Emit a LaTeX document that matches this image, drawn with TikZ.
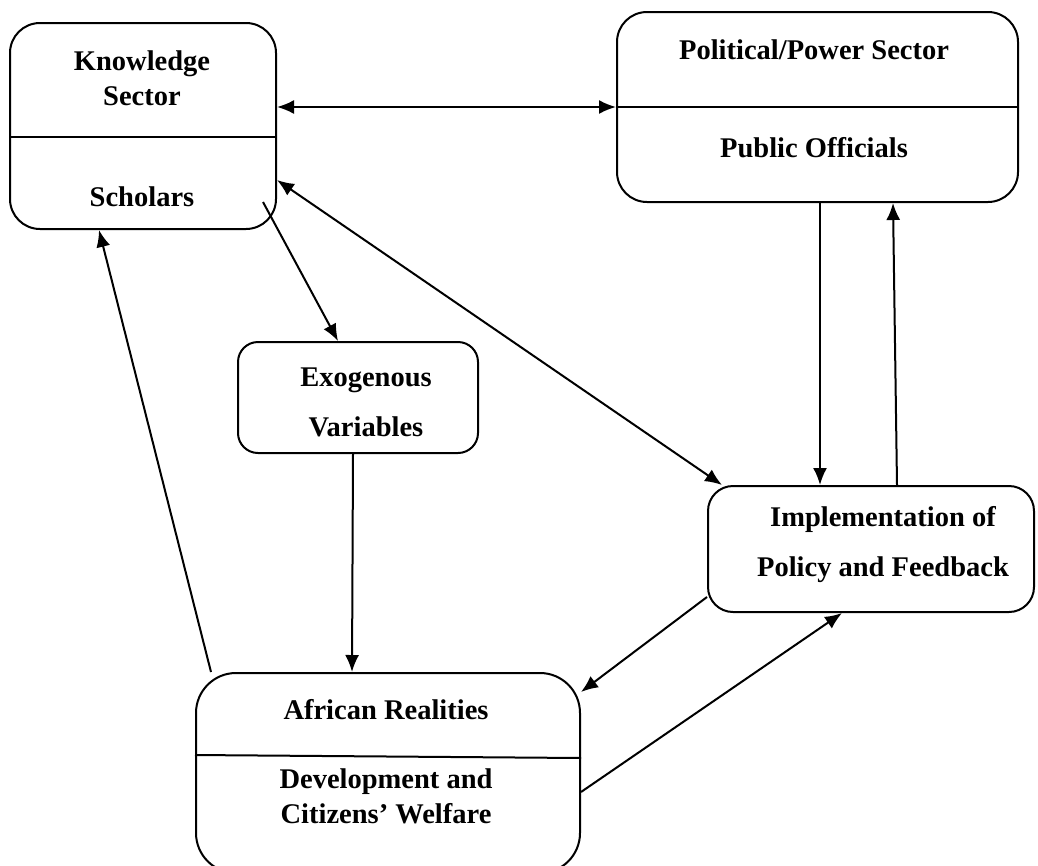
\documentclass[tikz,border=0pt]{standalone}
\usepackage{fontspec}
\setmainfont{Liberation Serif}
\usetikzlibrary{arrows.meta}
\tikzset{
  sectorbox/.style={draw, line width=2pt, rounded corners=30pt, inner sep=0pt},
  boxtext/.style={font=\bfseries\fontsize{28.5}{35}\selectfont, align=center, inner sep=0pt},
  link/.style={line width=2pt, -{Latex[length=17pt,width=14pt]}},
  twoway/.style={line width=2pt, {Latex[length=17pt,width=14pt]}-{Latex[length=17pt,width=14pt]}},
}

\begin{document}
\begin{tikzpicture}[x=1pt, y=-1pt]
\useasboundingbox (0,0) rectangle (1038,865);
% boxes
\node[sectorbox, minimum width=266pt, minimum height=206pt] (know) at (143,126) {};
\node[sectorbox, minimum width=401pt, minimum height=190pt] (pol) at (817.5,107) {};
\node[sectorbox, rounded corners=20pt, minimum width=240pt, minimum height=111pt] (exo) at (358,397.5) {};
\node[sectorbox, rounded corners=25pt, minimum width=326pt, minimum height=126pt] (impl) at (871,549) {};
\node[sectorbox, rounded corners=40pt, minimum width=384pt, minimum height=200pt] (afr) at (388,773) {};
% dividers
\draw[line width=2pt] ([yshift=-11pt]know.west) -- ([yshift=-11pt]know.east);
\draw[line width=2pt] (pol.west) -- (pol.east);
\draw[line width=2pt] ([yshift=18pt]afr.west) -- ([yshift=15pt]afr.east);
% texts
\node[boxtext] (knowT) at (142,78) {Knowledge\\Sector};
\node[boxtext] (knowB) at (142,197) {Scholars};
\node[boxtext] (polT) at (814,50) {Political/Power Sector};
\node[boxtext] (polB) at (814,148) {Public Officials};
\node[boxtext, font=\bfseries\fontsize{28.5}{50}\selectfont] (exoT) at (366,402) {Exogenous\\Variables};
\node[boxtext, font=\bfseries\fontsize{28.5}{50}\selectfont] (implT) at (883,545) {Implementation of\\Policy and Feedback};
\node[boxtext] (afrT) at (386,710) {African Realities};
\node[boxtext] (afrB) at (386,796) {Development and\\Citizens’ Welfare};
% connectors
\draw[twoway] (know.east |- pol.west) -- (pol.west);
\draw[twoway] ([yshift=-54pt]know.east) -- ([xshift=15pt]impl.north west);
\draw[link] ([xshift=-14pt,yshift=-76pt]know.east) -- ([xshift=-20pt]exo.north);
\draw[link] ([xshift=-5pt]exo.south) -- ([xshift=-36pt]afr.north);
\draw[link] ([xshift=16pt]afr.north west) -- ([xshift=90pt]know.south west);
\draw[link] ([xshift=2.5pt]pol.south) -- ([xshift=-51pt]impl.north);
\draw[link] ([xshift=26pt]impl.north) -- ([xshift=75.5pt]pol.south);
\draw[link] ([yshift=-48pt]impl.west) -- ([yshift=-20pt]afr.north east);
\draw[link] ([yshift=-19pt]afr.east) -- ([xshift=135pt]impl.south west);
\end{tikzpicture}
\end{document}
